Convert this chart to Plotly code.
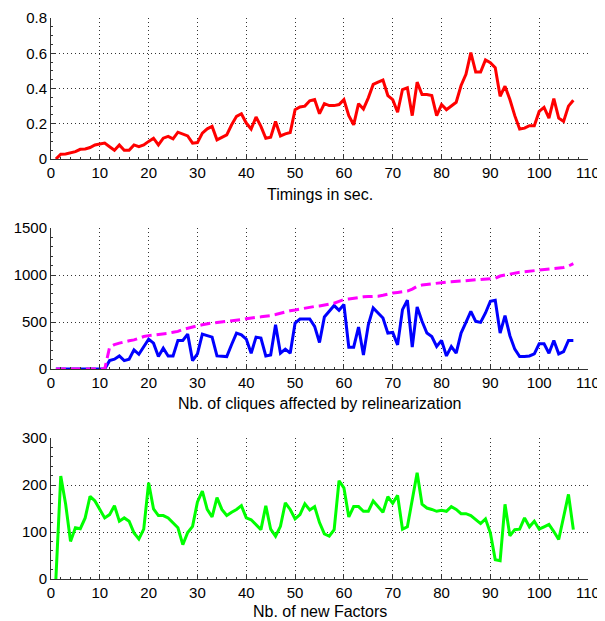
import plotly.graph_objects as go
from plotly.subplots import make_subplots

x = list(range(1, 108))

timings = [0, 0.027, 0.029, 0.035, 0.042, 0.055, 0.057, 0.065, 0.08, 0.085,
           0.09, 0.07, 0.05, 0.08, 0.05, 0.05, 0.08, 0.07, 0.08, 0.1,
           0.118, 0.08, 0.118, 0.128, 0.114, 0.152, 0.14, 0.131, 0.09, 0.093,
           0.147, 0.171, 0.185, 0.109, 0.123, 0.137, 0.194, 0.242, 0.257, 0.204,
           0.17, 0.238, 0.185, 0.118, 0.124, 0.213, 0.131, 0.143, 0.15, 0.28,
           0.295, 0.30, 0.33, 0.337, 0.257, 0.314, 0.303, 0.303, 0.309, 0.337,
           0.246, 0.194, 0.314, 0.284, 0.347, 0.423, 0.436, 0.448, 0.36, 0.337,
           0.265, 0.394, 0.404, 0.246, 0.436, 0.366, 0.366, 0.36, 0.246, 0.309,
           0.28, 0.30, 0.322, 0.417, 0.48, 0.604, 0.493, 0.493, 0.562, 0.547,
           0.518, 0.356, 0.413, 0.337, 0.246, 0.17, 0.175, 0.189, 0.189, 0.27,
           0.293, 0.232, 0.343, 0.232, 0.213, 0.30, 0.333]

cliques = [0, 0, 0, 0, 0, 0, 0, 0, 0, 0,
           0, 89, 104, 139, 89, 104, 204, 157, 240, 318,
           275, 132, 221, 139, 139, 304, 304, 371, 89, 161,
           371, 354, 339, 139, 132, 132, 260, 382, 364, 318,
           168, 339, 329, 139, 150, 471, 168, 211, 168, 489,
           532, 532, 532, 454, 282, 554, 614, 675, 625, 686,
           232, 232, 446, 150, 471, 650, 596, 543, 382, 389,
           257, 632, 732, 232, 661, 507, 382, 346, 239, 304,
           139, 239, 168, 382, 496, 614, 507, 496, 596, 721,
           732, 382, 568, 354, 211, 132, 132, 139, 161, 268,
           268, 168, 304, 161, 186, 304, 304]

cliques_total = [0, 0, 0, 0, 0, 0, 0, 0, 0, 0,
                 0, 230, 260, 275, 290, 300, 310, 330, 345, 355,
                 360, 365, 370, 380, 390, 400, 420, 436, 450, 460,
                 470, 482, 490, 495, 500, 510, 515, 520, 525, 535,
                 545, 550, 555, 560, 568, 580, 595, 610, 620, 628,
                 639, 650, 661, 665, 670, 680, 686, 700, 720, 739,
                 745, 755, 762, 768, 770, 772, 775, 785, 800, 808,
                 815, 822, 829, 850, 880, 893, 900, 910, 918, 922,
                 925, 928, 932, 936, 938, 940, 943, 946, 952, 958,
                 965, 989, 1000, 1012, 1022, 1030, 1035, 1040, 1045, 1050,
                 1055, 1060, 1068, 1072, 1080, 1095, 1120]

factors = [0, 219, 159, 80, 109, 107, 130, 176, 166, 148,
           130, 137, 156, 123, 130, 123, 98, 85, 106, 205,
           149, 135, 135, 130, 119, 109, 73, 99, 112, 164,
           187, 148, 132, 173, 148, 135, 142, 148, 156, 130,
           126, 116, 105, 156, 106, 91, 112, 162, 148, 128,
           137, 160, 147, 154, 120, 96, 91, 105, 209, 194,
           132, 154, 154, 144, 144, 166, 154, 142, 175, 161,
           178, 106, 111, 165, 226, 159, 151, 148, 144, 146,
           144, 154, 148, 139, 139, 135, 126, 118, 128, 98,
           41, 39, 159, 92, 105, 106, 130, 111, 123, 106,
           111, 116, 101, 84, 132, 180, 105]

x_ticks = list(range(0, 111, 10))
labels = ["Timings in sec.", "Nb. of cliques affected by relinearization", "Nb. of new Factors"]

fig = make_subplots(rows=3, cols=1)

fig.add_trace(go.Scatter(x=x, y=timings, mode="lines",
                         line=dict(color="#ff0000", width=3)), row=1, col=1)
fig.add_trace(go.Scatter(x=x, y=cliques, mode="lines",
                         line=dict(color="#0000ff", width=3)), row=2, col=1)
fig.add_trace(go.Scatter(x=x, y=cliques_total, mode="lines",
                         line=dict(color="#ff00ff", width=3, dash="10px,5px")), row=2, col=1)
fig.add_trace(go.Scatter(x=x, y=factors, mode="lines",
                         line=dict(color="#00ff00", width=3)), row=3, col=1)

# page body has an 8px margin; positions below are in screenshot pixels
OFF = 8
H = 561.0
def frac(px):
    return (579 - px) / H

domains = [(frac(159), frac(18)), (frac(369), frac(228)), (0.0, frac(438))]
yranges = [(0, 0.8, 0.2, 0.05), (0, 1500, 500, 100), (0, 300, 100, 20)]
label_y = [194, 404, 611]

axis_common = dict(
    showline=True, linecolor="#333333", linewidth=1,
    ticks="inside", ticklen=4, tickcolor="#333333",
    showgrid=True, gridcolor="#333333", gridwidth=1, griddash="1px,3px",
    zeroline=False, mirror=False, automargin=False,
    tickfont=dict(family="Liberation Sans, Arial, sans-serif", size=15, color="#000000"),
)

for i in range(3):
    r = i + 1
    fig.update_xaxes(range=[0, 110], tickvals=x_ticks,
                     minor=dict(ticks="inside", ticklen=2, dtick=2, tick0=0,
                                tickcolor="#333333", showgrid=False),
                     row=r, col=1, **axis_common)
    lo, hi, dt, mdt = yranges[i]
    fig.update_yaxes(range=[lo, hi], dtick=dt, tick0=0, domain=list(domains[i]),
                     minor=dict(ticks="inside", ticklen=2, dtick=mdt, tick0=0,
                                tickcolor="#333333", showgrid=False),
                     row=r, col=1, **axis_common)
    fig.add_annotation(text=labels[i], xref="paper", yref="paper",
                       x=0.5, y=frac(label_y[i]), xanchor="center", yanchor="middle",
                       showarrow=False,
                       font=dict(family="Liberation Sans, Arial, sans-serif", size=16, color="#000000"))

W, Hh = 605 - OFF, 621 - OFF
fig.update_layout(
    width=W, height=Hh,
    margin=dict(l=51 - OFF, r=605 - 588, t=18 - OFF, b=621 - 579),
    paper_bgcolor="white", plot_bgcolor="white",
    showlegend=False,
)

fig.write_html("out.html")
